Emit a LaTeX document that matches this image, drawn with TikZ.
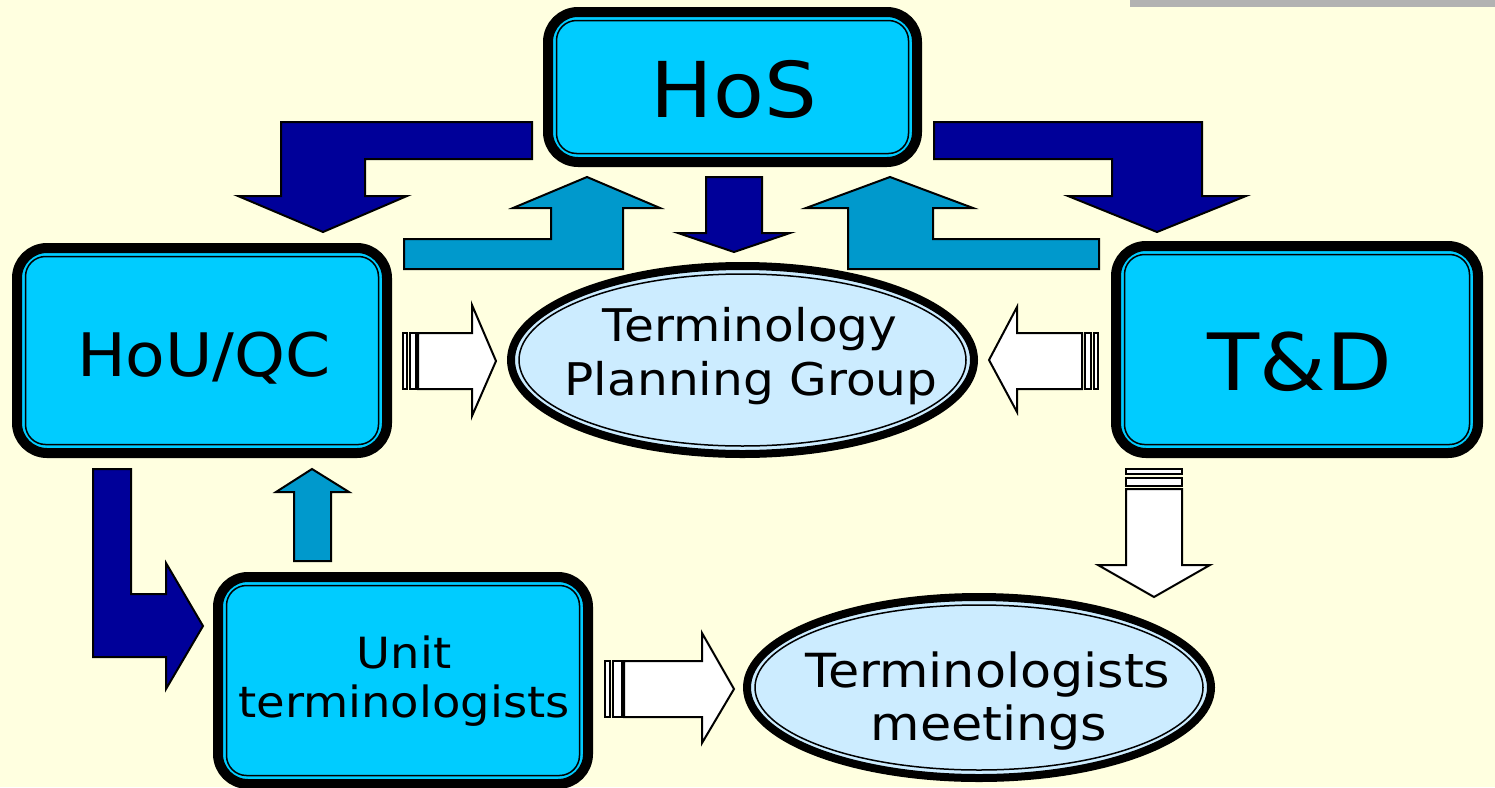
\documentclass[tikz,border=0pt]{standalone}
\usepackage{fontspec}
\setmainfont{DejaVu Sans}[FakeStretch=1.08]
\usetikzlibrary{shapes.geometric}
\definecolor{bg}{HTML}{FFFFE0}
\definecolor{boxcyan}{HTML}{00CCFF}
\definecolor{elblue}{HTML}{CCECFF}
\definecolor{navy}{HTML}{000099}
\definecolor{tealb}{HTML}{0099CC}
\definecolor{barg}{HTML}{B2B2B2}
\begin{document}
\begin{tikzpicture}[x=1pt,y=-1pt,
 outerbox/.style={draw=black, fill=boxcyan, line width=10pt, rounded corners=30pt, inner sep=0pt, outer sep=0pt},
 innerbox/.style={draw=black, line width=1.5pt, rounded corners=20pt, inner sep=0pt},
 outerell/.style={ellipse, draw=black, fill=elblue, line width=8pt, inner sep=0pt},
 innerell/.style={ellipse, draw=black, line width=1.5pt, inner sep=0pt},
 navyarrow/.style={fill=navy, draw=black, line width=2pt},
 tealarrow/.style={fill=tealb, draw=black, line width=2pt},
 whitearrow/.style={fill=white, draw=black, line width=2pt},
 lbl/.style={inner sep=0pt, anchor=base}
]
\useasboundingbox (0,0) rectangle (1495,787);
\fill[bg] (0,0) rectangle (1495,787);
\fill[barg] (1130,0) rectangle (1495,7);

% boxes
\node[outerbox, minimum width=369pt, minimum height=150pt] (hos) at (732.5,87) {};
\node[innerbox, minimum width=352pt, minimum height=133pt] (hosin) at (hos) {};
\node[outerbox, minimum width=370pt, minimum height=205pt] (hou) at (202,350.5) {};
\node[innerbox, minimum width=353pt, minimum height=188pt] (houin) at (hou) {};
\node[outerbox, minimum width=362pt, minimum height=207pt] (td) at (1297,349.5) {};
\node[innerbox, minimum width=345pt, minimum height=190pt] (tdin) at (td) {};
\node[outerbox, minimum width=370pt, minimum height=207pt] (unit) at (403,680.5) {};
\node[innerbox, minimum width=353pt, minimum height=190pt] (unitin) at (unit) {};

% ellipses
\node[outerell, minimum width=463pt, minimum height=188pt] (tpg) at (742.5,360) {};
\node[innerell, minimum width=447pt, minimum height=172pt] (tpgin) at (tpg) {};
\node[outerell, minimum width=464pt, minimum height=181pt] (meet) at (979,687.5) {};
\node[innerell, minimum width=448pt, minimum height=165pt] (meetin) at (meet) {};

% labels
\node[lbl, font=\fontsize{77}{80}\selectfont] (hosl) at (734,117) {HoS};
\node[lbl, font=\fontsize{60}{66}\selectfont] (houl) at (204,376) {HoU/QC};
\node[lbl, font=\fontsize{79}{84}\selectfont] (tdl) at (1300,390) {T\&D};
\node[lbl, font=\fontsize{45}{50}\selectfont] (tpgl1) at (750,341) {Terminology};
\node[lbl, font=\fontsize{45}{50}\selectfont] (tpgl2) at (751,395) {Planning Group};
\node[lbl, font=\fontsize{47}{50}\selectfont] (meetl1) at (988,687) {Terminologists};
\node[lbl, font=\fontsize{47}{50}\selectfont] (meetl2) at (989,740) {meetings};
\node[lbl, font=\fontsize{43}{48}\selectfont] (unitl1) at (404,668) {Unit};
\node[lbl, font=\fontsize{43}{48}\selectfont] (unitl2) at (404,717) {terminologists};

% navy bent arrows
\draw[navyarrow] (532,122) -- (281,122) -- (281,196) -- (238,196) -- (323,232) -- (407,196) -- (365,196) -- (365,159) -- (532,159) -- cycle;
\draw[navyarrow] (934,122) -- (1202,122) -- (1202,196) -- (1246,196) -- (1157,232) -- (1068,196) -- (1112,196) -- (1112,159) -- (934,159) -- cycle;
\draw[navyarrow] (706,177) -- (762,177) -- (762,233) -- (790,233) -- (734,252) -- (678,233) -- (706,233) -- cycle;
\draw[navyarrow] (93,469) -- (131,469) -- (131,594) -- (166,594) -- (166,563) -- (203,626) -- (166,689) -- (166,657) -- (93,657) -- cycle;

% teal arrows
\draw[tealarrow] (404,269) -- (623,269) -- (623,208) -- (660,208) -- (587,177) -- (513,208) -- (551,208) -- (551,239) -- (404,239) -- cycle;
\draw[tealarrow] (848,269) -- (1099,269) -- (1099,239) -- (933,239) -- (933,208) -- (973,208) -- (890,177) -- (806,208) -- (848,208) -- cycle;
\draw[tealarrow] (294,561) -- (331,561) -- (331,492) -- (349,492) -- (312,469) -- (276,492) -- (294,492) -- cycle;

% white striped arrows
\draw[whitearrow] (403,333) rectangle (407,389);
\draw[whitearrow] (410,333) rectangle (416,389);
\draw[whitearrow] (418,333) -- (472,333) -- (472,305) -- (496,361) -- (472,416) -- (472,389) -- (418,389) -- cycle;

\draw[whitearrow] (1094,333) rectangle (1098,389);
\draw[whitearrow] (1085,333) rectangle (1091,389);
\draw[whitearrow] (1082,333) -- (1017,333) -- (1017,307) -- (989,360) -- (1017,412) -- (1017,389) -- (1082,389) -- cycle;

\draw[whitearrow] (1126,469) rectangle (1182,474);
\draw[whitearrow] (1126,478) rectangle (1182,486);
\draw[whitearrow] (1126,489) -- (1182,489) -- (1182,565) -- (1210,565) -- (1154,597) -- (1098,565) -- (1126,565) -- cycle;

\draw[whitearrow] (605,661) rectangle (610,717);
\draw[whitearrow] (613,661) rectangle (622,717);
\draw[whitearrow] (624,661) -- (702,661) -- (702,633) -- (734,689) -- (702,743) -- (702,717) -- (624,717) -- cycle;
\end{tikzpicture}
\end{document}
